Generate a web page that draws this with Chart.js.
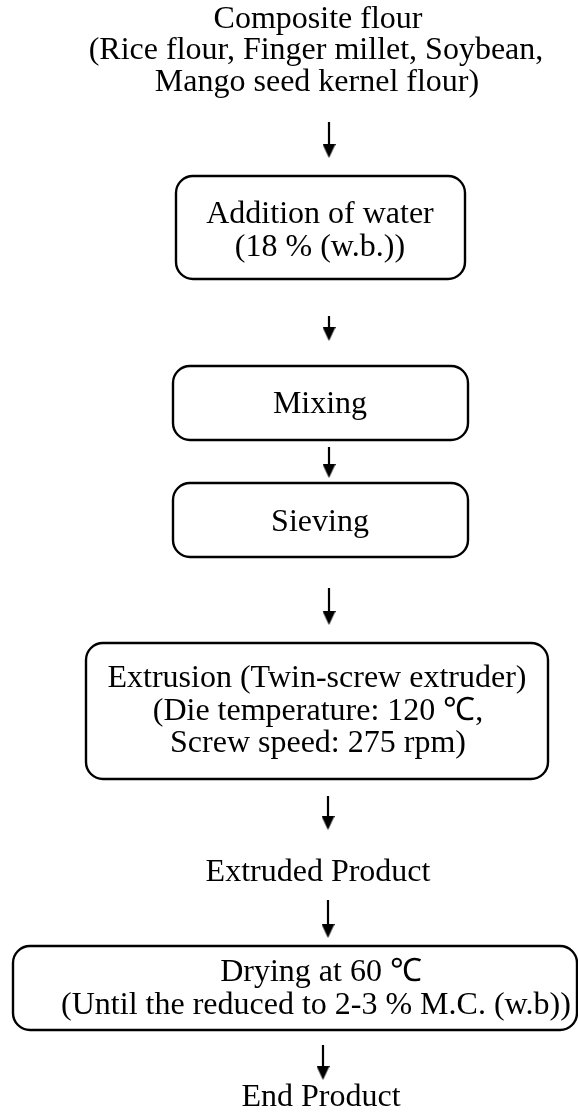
<!DOCTYPE html>
<html><head><meta charset="utf-8">
<script src="https://cdn.jsdelivr.net/npm/chart.js@4"></script>
<style>html,body{margin:0;padding:0;background:#fff;}canvas{display:block;}</style>
</head><body>
<canvas id="c" width="578" height="1113"></canvas>
<script>
// Flowchart content
const textLines = [
  "Composite flour",
  "(Rice flour, Finger millet, Soybean,",
  "Mango seed kernel flour)",
  "Addition of water",
  "(18 % (w.b.))",
  "Mixing",
  "Sieving",
  "Extrusion (Twin-screw extruder)",
  "(Die temperature: 120 \u2103,",
  "Screw speed: 275 rpm)",
  "Extruded Product",
  "Drying at 60 \u2103",
  "(Until the reduced to 2-3 % M.C. (w.b))",
  "End Product"
];
// text centre x and baseline y
const textX = [318, 316, 317, 320, 320, 320, 320, 317, 318, 318, 318, 321, 316, 321];
const textY = [28, 59, 91, 223, 256, 413, 531, 687, 720, 752, 881, 981, 1014, 1106];

// Process boxes: left, right, top, bottom
const boxLeft   = [176, 173, 173, 86, 13];
const boxRight  = [465, 468, 468, 548, 577];
const boxTop    = [176, 366, 483, 643, 946];
const boxBottom = [279, 440, 557, 779, 1030];

// Arrows: x, start y, tip y
const arrowX     = [329, 329, 329, 329, 328, 328, 323];
const arrowStart = [122, 316, 447, 588, 796, 900, 1045];
const arrowTip   = [158, 341, 478, 625, 830, 938, 1080];

const HEAD_W = 13, HEAD_H = 14;
const head = document.createElement('canvas');
head.width = HEAD_W; head.height = HEAD_H;
(function () {
  const g = head.getContext('2d');
  g.fillStyle = '#000';
  g.beginPath(); g.moveTo(0, 0); g.lineTo(HEAD_W, 0); g.lineTo(HEAD_W / 2, HEAD_H); g.closePath(); g.fill();
})();

const datasets = arrowX.map((x, i) => ({
  type: 'line',
  data: [{x: x, y: arrowStart[i]}, {x: x, y: arrowTip[i] - HEAD_H / 2}],
  borderColor: '#000',
  borderWidth: 2.2,
  pointStyle: [false, head],
  pointRadius: [0, HEAD_H / 2],
  clip: false
}));

const FONT = '32px "Liberation Serif"';
const flowPlugin = {
  id: 'flow',
  afterDatasetsDraw(chart) {
    const ctx = chart.ctx, xs = chart.scales.x, ys = chart.scales.y;
    ctx.save();
    ctx.strokeStyle = '#000';
    ctx.lineWidth = 2.4;
    boxLeft.forEach((l, i) => {
      const x0 = xs.getPixelForValue(l), x1 = xs.getPixelForValue(boxRight[i]);
      const y0 = ys.getPixelForValue(boxTop[i]), y1 = ys.getPixelForValue(boxBottom[i]);
      ctx.beginPath();
      ctx.roundRect(x0, y0, x1 - x0, y1 - y0, 17);
      ctx.stroke();
    });
    ctx.fillStyle = '#000';
    ctx.font = FONT;
    ctx.textAlign = 'center';
    ctx.textBaseline = 'alphabetic';
    textLines.forEach((t, i) => {
      ctx.fillText(t, xs.getPixelForValue(textX[i]), ys.getPixelForValue(textY[i]));
    });
    ctx.restore();
  }
};

new Chart(document.getElementById('c'), {
  type: 'line',
  data: { datasets },
  options: {
    responsive: false,
    animation: false,
    events: [],
    layout: { padding: 0, autoPadding: false },
    plugins: { legend: { display: false }, tooltip: { enabled: false } },
    scales: {
      x: { type: 'linear', min: 0, max: 578, display: false },
      y: { type: 'linear', min: 0, max: 1113, reverse: true, display: false }
    }
  },
  plugins: [flowPlugin]
});
</script>
</body></html>
